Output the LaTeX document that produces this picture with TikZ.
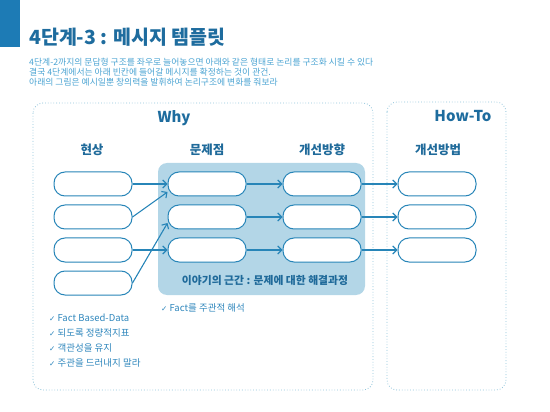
\documentclass[tikz,border=0pt]{standalone}
\usepackage{fontspec}
\setmainfont{Noto Sans CJK KR}
\newfontfamily\dejavu{DejaVu Sans}
\usetikzlibrary{arrows.meta,calc}
\definecolor{barblue}{HTML}{1D7BB5}
\definecolor{titleblue}{HTML}{1E6C9E}
\definecolor{bodyblue}{HTML}{4AA3D2}
\definecolor{boxblue}{HTML}{2785B8}
\definecolor{shadeblue}{HTML}{B3D6E7}
\definecolor{headblue}{HTML}{1F6A9A}
\definecolor{dotblue}{HTML}{8FC3DA}
\definecolor{checkblue}{HTML}{2E86BC}
\tikzset{
  pill/.style={draw=boxblue, line width=1pt, fill=white, rounded corners=11pt,
    minimum width=78pt, minimum height=24pt, inner sep=0pt},
  panel/.style={draw=dotblue, dotted, line width=0.8pt, rounded corners=10pt},
  head/.style={text=headblue, font=\bfseries\fontsize{12.5}{14}\selectfont, inner sep=0pt},
  big/.style={text=titleblue, font=\bfseries\fontsize{15}{17}\selectfont, inner sep=0pt},
  body/.style={text=bodyblue, font=\fontsize{8.8}{10}\selectfont, anchor=west, inner sep=0pt},
  check/.style={text=checkblue, font=\fontsize{9.5}{11}\selectfont, anchor=west, inner sep=0pt},
  conn/.style={draw=boxblue, line width=1.1pt, -{Straight Barb[length=4pt,width=8pt,line width=1.1pt]}}
}
\newcommand{\ck}{{\dejavu\bfseries\fontsize{7.5}{9}\selectfont ✓}\ }
\begin{document}
\begin{tikzpicture}[x=1pt,y=-1pt]
\useasboundingbox (0,0) rectangle (550,412);
% header bar and title
\fill[barblue] (0,0) rectangle (20,47);
\node[anchor=west, inner sep=0pt, text=titleblue, font=\bfseries\fontsize{19.5}{22}\selectfont] (title) at (29,37) {4단계-3 : 메시지 템플릿};
\node[body] (b1) at (29,62) {4단계-2까지의 문답형 구조를 좌우로 늘어놓으면 아래와 같은 형태로 논리를 구조화 시킬 수 있다};
\node[body] (b2) at (29,72) {결국 4단계에서는 아래 빈칸에 들어갈 메시지를 확정하는 것이 관건.};
\node[body] (b3) at (29,82) {아래의 그림은 예시일뿐 창의력을 발휘하여 논리구조에 변화를 줘보라};
% panels
\draw[panel] (33,103) rectangle (373,390);
\draw[panel] (387,102) rectangle (506,390);
\node[big] (why) at (174,118) {Why};
\node[big] (howto) at (463,116) {How-To};
% shaded region
\node[fill=shadeblue, rounded corners=9pt, minimum width=207pt, minimum height=132pt, inner sep=0pt] (shade) at (261.5,229) {};
\node[text=headblue, font=\bfseries\fontsize{10.8}{12}\selectfont, inner sep=0pt] (shadelabel) at (265,280) {이야기의 근간 : 문제에 대한 해결과정};
% headers
\node[head] (h1) at (92,150) {현상};
\node[head] (h2) at (207,150) {문제점};
\node[head] (h3) at (322,150) {개선방향};
\node[head] (h4) at (438,150) {개선방법};
% boxes
\node[pill] (L1) at (93,184) {};
\node[pill] (L2) at (93,217) {};
\node[pill] (L3) at (93,250) {};
\node[pill] (L4) at (93,283) {};
\node[pill] (M1) at (207,184) {};
\node[pill] (M2) at (207,217) {};
\node[pill] (M3) at (207,250) {};
\node[pill] (R1) at (322,184) {};
\node[pill] (R2) at (322,217) {};
\node[pill] (R3) at (322,250) {};
\node[pill] (H1) at (437,184) {};
\node[pill] (H2) at (437,217) {};
\node[pill] (H3) at (437,250) {};
% connectors
\draw[conn] (L1.east) -- (M1.west);
\draw[conn] (L2.east) -- ([yshift=-8pt]M1.west);
\draw[conn] (L3.east) -- (M3.west);
\draw[conn] (L4.east) -- ([yshift=-6pt]M2.west);
\draw[conn] (M1.east) -- (R1.west);
\draw[conn] (M2.east) -- (R2.west);
\draw[conn] (M3.east) -- (R3.west);
\draw[conn] (R1.east) -- (H1.west);
\draw[conn] (R2.east) -- (H2.west);
\draw[conn] (R3.east) -- (H3.west);
% check lists
\node[check] (c0) at (161,308) {\ck Fact를 주관적 해석};
\node[check] (c1) at (49,318) {\ck Fact Based-Data};
\node[check] (c2) at (49,333) {\ck 되도록 정량적지표};
\node[check] (c3) at (49,348) {\ck 객관성을 유지};
\node[check] (c4) at (49,363) {\ck 주관을 드러내지 말라};
\end{tikzpicture}
\end{document}
